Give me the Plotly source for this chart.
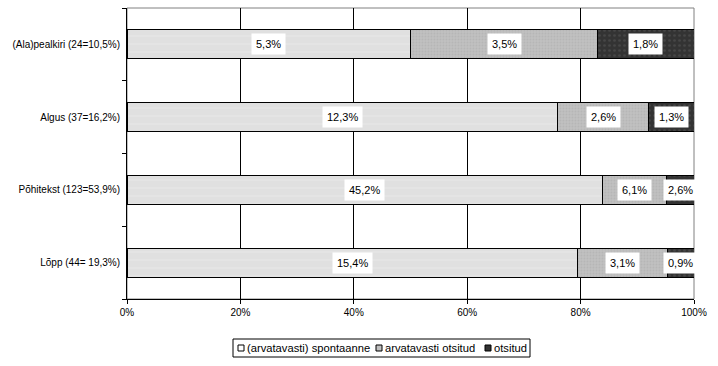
import plotly.graph_objects as go

categories = ["(Ala)pealkiri (24=10,5%)", "Algus (37=16,2%)", "Põhitekst (123=53,9%)", "Lõpp (44= 19,3%)"]
series_names = ["(arvatavasti) spontaanne", "arvatavasti otsitud", "otsitud"]
spontaanne = [5.3, 12.3, 45.2, 15.4]
arv_otsitud = [3.5, 2.6, 6.1, 3.1]
otsitud = [1.8, 1.3, 2.6, 0.9]
x_ticks = [0, 20, 40, 60, 80, 100]
x_ticklabels = ["0%", "20%", "40%", "60%", "80%", "100%"]

series = [spontaanne, arv_otsitud, otsitud]
colors = ["#e0e0e0", "#c0c0c0", "#333333"]
legend_colors = ["#ffffff", "#c0c0c0", "#333333"]
pattern_fg = ["#f8f8f8", "#acacac", "#5a5a5a"]
pattern_shape = ["-", ".", "."]
pattern_size = [8, 3, 5]
pattern_sol = [0.08, 0.3, 0.2]

FONT = "Liberation Sans, Arial, sans-serif"

W, H = 718, 366
ML, MR, MT, MB = 127, 24, 8, 67
PW, PH = W - ML - MR, H - MT - MB


def px_x(px):
    return (px - ML) / PW


def px_y(py):
    return (H - MB - py) / PH


ypos = list(range(len(categories)))

fig = go.Figure()
for name, vals, c, fg, sh, sz, so in zip(series_names, series, colors, pattern_fg,
                                          pattern_shape, pattern_size, pattern_sol):
    fig.add_trace(go.Bar(
        y=ypos, x=vals, name=name, orientation="h",
        width=0.4,
        marker=dict(color=c, line=dict(color="black", width=1),
                    pattern=dict(shape=sh, fgcolor=fg, bgcolor=c, size=sz, solidity=so)),
        hoverinfo="skip", showlegend=False,
    ))

# value labels, placed at the centre of each normalised segment
annotations = []
for i in ypos:
    total = sum(s[i] for s in series)
    start = 0.0
    for s in series:
        share = s[i] / total * 100
        annotations.append(dict(
            x=start + share / 2, y=i, xref="x", yref="y",
            text=f"{s[i]:.1f}".replace(".", ",") + "%",
            showarrow=False, bgcolor="white", borderpad=4,
            font=dict(family=FONT, size=11, color="black"),
        ))
        start += share

# compact legend (box, swatches, labels)
shapes = [dict(type="rect", xref="paper", yref="paper",
               x0=px_x(233), x1=px_x(530), y0=px_y(357), y1=px_y(339),
               line=dict(color="black", width=1), fillcolor="white", layer="above")]
legend_swatch_x = [238, 376, 485]
legend_cy = 348
for sx, name, lc in zip(legend_swatch_x, series_names, legend_colors):
    shapes.append(dict(type="rect", xref="paper", yref="paper",
                       x0=px_x(sx), x1=px_x(sx + 6), y0=px_y(legend_cy + 3), y1=px_y(legend_cy - 3),
                       line=dict(color="black", width=1), fillcolor=lc, layer="above"))
    annotations.append(dict(x=px_x(sx + 7), y=px_y(legend_cy), xref="paper", yref="paper",
                            xanchor="left", yanchor="middle", text=name, showarrow=False,
                            font=dict(family=FONT, size=11.2, color="black")))

shapes.append(dict(type="rect", xref="x domain", yref="y domain", x0=0, x1=1, y0=0, y1=1,
                   line=dict(color="#808080", width=1), layer="below"))

boundaries = [p - 0.5 for p in ypos] + [ypos[-1] + 0.5]

fig.update_layout(
    barmode="stack", barnorm="percent",
    width=W, height=H,
    margin=dict(l=ML, r=MR, t=MT, b=MB, autoexpand=False),
    paper_bgcolor="white", plot_bgcolor="white",
    font=dict(family=FONT, size=10, color="black"),
    annotations=annotations,
    shapes=shapes,
    showlegend=False,
)
fig.update_xaxes(range=[0, 100], tickvals=x_ticks, ticktext=x_ticklabels,
                 showgrid=False, automargin=False,
                 minor=dict(tickvals=x_ticks[1:-1], showgrid=True, gridcolor="black",
                            gridwidth=1, ticks=""),
                 showline=True, linecolor="black", linewidth=1,
                 ticks="outside", ticklen=4, tickcolor="black", zeroline=False,
                 tickfont=dict(family=FONT, size=10))
fig.update_yaxes(range=[boundaries[-1], boundaries[0]],
                 tickvals=ypos, ticktext=categories, ticks="",
                 minor=dict(tickvals=boundaries, ticks="outside", ticklen=4,
                            tickcolor="black", showgrid=False),
                 showgrid=False, showline=True, linecolor="black", linewidth=1,
                 zeroline=False, ticklabelstandoff=4, automargin=False,
                 tickfont=dict(family=FONT, size=10))

fig.write_html("out.html", config={"displayModeBar": False},
               post_script="document.body.style.margin='0';")
